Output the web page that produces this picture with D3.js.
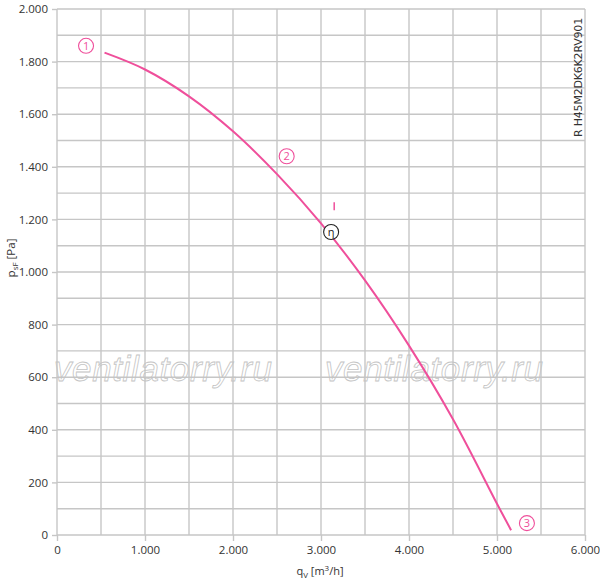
<!DOCTYPE html>
<html>
<head>
<meta charset="utf-8">
<script src="https://cdn.jsdelivr.net/npm/d3@7"></script>
<style>
  body { margin: 0; background: #fff; }
  text { font-family: 'Open Sans', 'Noto Sans', sans-serif; }
</style>
</head>
<body>
<svg id="chart" width="600" height="581"></svg>
<script>

// fan curve
const flow = [540, 1000, 1500, 2000, 2500, 3000, 3500, 4000, 4500, 5000, 5160];
const pressure = [1834, 1770, 1668, 1535, 1372, 1185, 968, 720, 440, 119, 18];

const xTicks = [0, 1000, 2000, 3000, 4000, 5000, 6000];
const yTicks = [0, 200, 400, 600, 800, 1000, 1200, 1400, 1600, 1800, 2000];

// circled markers along the curve
const markers = [
    {label: '1', q: 330, p: 1860, color: '#ef4f9b'},
    {label: '2', q: 2610, p: 1440, color: '#ef4f9b'},
    {label: '3', q: 5340, p: 45, color: '#ef4f9b'},
    {label: 'η', q: 3115, p: 1152, color: '#222'}
];
const bestPoint = {q: 3150, p: 1250};

const pink = '#ef4f9b';
const gridColor = '#c6c6c6';

const svg = d3.select('#chart');
const margin = {left: 57, top: 9, right: 15, bottom: 46};
const w = 600 - margin.left - margin.right;
const h = 581 - margin.top - margin.bottom;

const x = d3.scaleLinear().domain([0, 6000]).range([0, w]);
const y = d3.scaleLinear().domain([0, 2000]).range([h, 0]);

const fmt = function(d) { return d3.format(',')(d).replace(/,/g, '.'); };

const g = svg.append('g')
    .attr('transform', 'translate(' + margin.left + ',' + margin.top + ')');

// grid
g.append('g').selectAll('line')
    .data(d3.range(0, 6001, 500))
    .join('line')
    .attr('x1', d => x(d)).attr('x2', d => x(d))
    .attr('y1', 0).attr('y2', h)
    .attr('stroke', gridColor).attr('stroke-width', 1.4);

g.append('g').selectAll('line')
    .data(d3.range(0, 2001, 100))
    .join('line')
    .attr('x1', 0).attr('x2', w)
    .attr('y1', d => y(d)).attr('y2', d => y(d))
    .attr('stroke', gridColor).attr('stroke-width', 1.4);

// axes
const xAxis = g.append('g')
    .attr('transform', 'translate(0,' + h + ')')
    .call(d3.axisBottom(x).tickValues(xTicks).tickFormat(fmt).tickSize(6).tickPadding(5));
const yAxis = g.append('g')
    .call(d3.axisLeft(y).tickValues(yTicks).tickFormat(fmt).tickSize(5).tickPadding(4));

[xAxis, yAxis].forEach(function(a) {
    a.select('.domain').remove();
    a.selectAll('line').attr('stroke', gridColor).attr('stroke-width', 1.4);
    a.selectAll('text').attr('fill', '#333').style('font-size', '11.5px');
});

// watermarks
['ventilatorry.ru', 'ventilatorry.ru'].forEach(function(t, i) {
    g.append('text')
        .attr('x', i ? 268 : -3)
        .attr('y', 381 - margin.top)
        .attr('fill', 'none')
        .attr('stroke', '#c4c4c4')
        .attr('stroke-width', 0.8)
        .attr('textLength', 218)
        .style('font-size', '35px')
        .style('font-style', 'italic')
        .style('font-family', 'Liberation Sans, Arial, sans-serif')
        .text(t);
});

// curve
const pts = flow.map((q, i) => [q, pressure[i]]);
g.append('path')
    .datum(pts)
    .attr('fill', 'none')
    .attr('stroke', pink)
    .attr('stroke-width', 2)
    .attr('d', d3.line().x(d => x(d[0])).y(d => y(d[1])).curve(d3.curveCatmullRom.alpha(0.5)));

// small tick above best efficiency point
g.append('line')
    .attr('x1', x(bestPoint.q)).attr('x2', x(bestPoint.q))
    .attr('y1', y(bestPoint.p) - 4).attr('y2', y(bestPoint.p) + 4)
    .attr('stroke', pink).attr('stroke-width', 1.5);

// circled labels
const mk = g.append('g').selectAll('g')
    .data(markers)
    .join('g')
    .attr('transform', d => 'translate(' + x(d.q) + ',' + y(d.p) + ')');
mk.append('circle')
    .attr('r', 7.5)
    .attr('fill', '#fff')
    .attr('stroke', d => d.color)
    .attr('stroke-width', 1.1);
mk.append('text')
    .attr('text-anchor', 'middle')
    .attr('dy', '0.36em')
    .attr('fill', d => d.color)
    .style('font-size', '11px')
    .text(d => d.label);

// model name
svg.append('text')
    .attr('transform', 'translate(582,137) rotate(-90)')
    .attr('fill', '#333')
    .style('font-size', '11px')
    .style('font-family', 'DejaVu Sans, sans-serif')
    .style('letter-spacing', '-0.2px')
    .text('R H45M2DK6K2RV901');

// axis titles
const yt = svg.append('text')
    .attr('transform', 'translate(15,258) rotate(-90)')
    .attr('text-anchor', 'middle')
    .attr('fill', '#333')
    .style('font-size', '11.5px');
yt.append('tspan').text('p');
yt.append('tspan').attr('dy', 3).style('font-size', '8px').text('sF');
yt.append('tspan').attr('dy', -3).text('  [Pa]');

const xt = svg.append('text')
    .attr('x', 320).attr('y', 575)
    .attr('text-anchor', 'middle')
    .attr('fill', '#333')
    .style('font-size', '11px');
xt.append('tspan').text('q');
xt.append('tspan').attr('dy', 3).style('font-size', '8px').text('V');
xt.append('tspan').attr('dy', -3).text(' [m');
xt.append('tspan').attr('dy', -4).style('font-size', '8px').text('3');
xt.append('tspan').attr('dy', 4).text('/h]');

</script>
</body>
</html>
